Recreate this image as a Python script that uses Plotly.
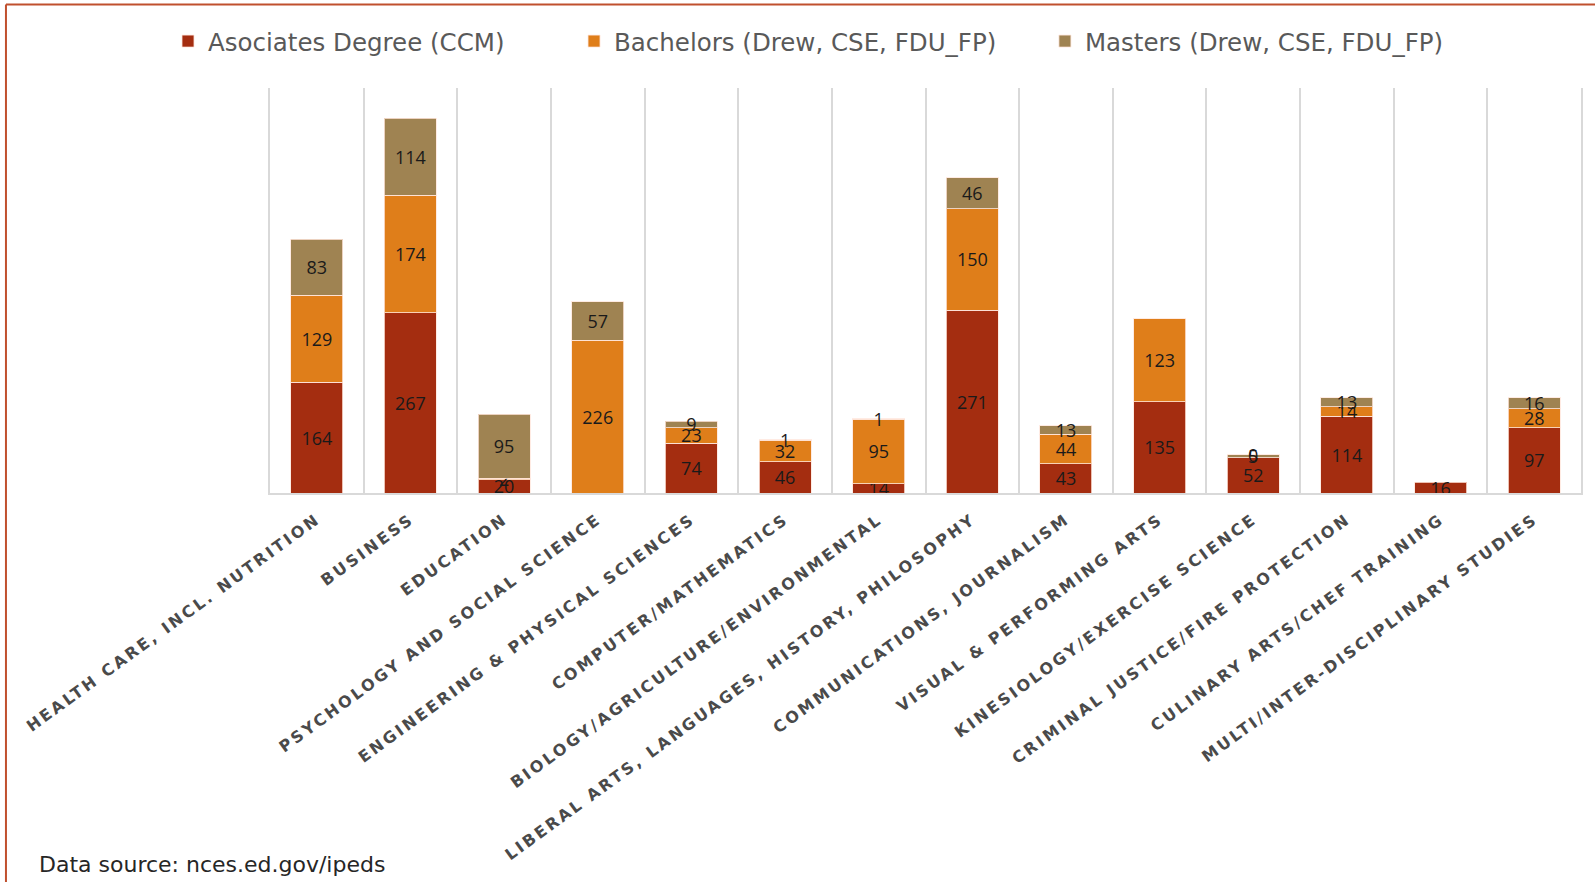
import plotly.graph_objects as go

# 분야별 학위 수여 현황
categories = [
    'HEALTH CARE, INCL. NUTRITION', 'BUSINESS', 'EDUCATION',
    'PSYCHOLOGY AND SOCIAL SCIENCE', 'ENGINEERING & PHYSICAL SCIENCES',
    'COMPUTER/MATHEMATICS', 'BIOLOGY/AGRICULTURE/ENVIRONMENTAL',
    'LIBERAL ARTS, LANGUAGES, HISTORY, PHILOSOPHY',
    'COMMUNICATIONS, JOURNALISM', 'VISUAL & PERFORMING ARTS',
    'KINESIOLOGY/EXERCISE SCIENCE', 'CRIMINAL JUSTICE/FIRE PROTECTION',
    'CULINARY ARTS/CHEF TRAINING', 'MULTI/INTER-DISCIPLINARY STUDIES',
]
associates = [164, 267, 20, None, 74, 46, 14, 271, 43, 135, 52, 114, 16, 97]
bachelors = [129, 174, 2, 226, 23, 32, 95, 150, 44, 123, 0, 14, None, 28]
masters = [83, 114, 95, 57, 9, 1, 1, 46, 13, None, 5, 13, None, 16]

series_names = ['Asociates Degree (CCM)', 'Bachelors (Drew, CSE, FDU_FP)', 'Masters (Drew, CSE, FDU_FP)']
colors = ['#A42D10', '#DF7E1A', '#9F8352']
legend_ids = ['legend', 'legend2', 'legend3']
legend_x = [-0.0778, 0.2319, 0.5911]

label_font = dict(family='Open Sans, Noto Sans, sans-serif', size=18, color='#1a1a1a')

fig = go.Figure()

base = [0] * len(categories)
zero_x, zero_y = [], []
for name, vals, color, lg in zip(series_names, [associates, bachelors, masters], colors, legend_ids):
    fig.add_trace(go.Bar(
        x=categories,
        y=vals,
        name=name,
        legend=lg,
        marker=dict(color=color, line=dict(color='rgba(255,230,220,0.8)', width=1)),
        text=[('' if v is None else str(v)) for v in vals],
        textposition='inside',
        insidetextanchor='middle',
        textangle=0,
        textfont=label_font,
        cliponaxis=False,
    ))
    # 0 값은 막대 높이가 없어 라벨이 안 그려지므로 따로 표시
    for i, v in enumerate(vals):
        if v == 0:
            zero_x.append(categories[i])
            zero_y.append(base[i])
        base[i] += (v or 0)

fig.add_trace(go.Scatter(
    x=zero_x, y=zero_y,
    mode='text',
    text=['0'] * len(zero_x),
    textposition='middle center',
    textfont=label_font,
    showlegend=False,
    hoverinfo='skip',
    cliponaxis=False,
))

# 테두리 (프레임)
fig.add_shape(
    type='line', xref='paper', yref='paper',
    x0=-0.2014, x1=-0.2014, y0=-1.0, y1=1.2062,
    line=dict(color='#C0502E', width=2),
)
fig.add_shape(
    type='line', xref='paper', yref='paper',
    x0=-0.2014, x1=1.02, y0=1.2062, y1=1.2062,
    line=dict(color='#C0502E', width=2),
)

fig.add_annotation(
    text='Data source: nces.ed.gov/ipeds',
    xref='paper', yref='paper', x=-0.178, y=-0.917,
    xanchor='left', yanchor='middle', showarrow=False,
    font=dict(family='DejaVu Sans, sans-serif', size=22, color='#262626'),
)

legend_style = dict(
    orientation='h',
    xanchor='left',
    y=1.1156, yanchor='middle',
    font=dict(family='DejaVu Sans, sans-serif', size=24.5, color='#595959'),
    bgcolor='rgba(0,0,0,0)',
)

fig.update_layout(
    barmode='stack',
    bargap=0.445,
    width=1595, height=882,
    margin=dict(l=270, r=14, t=88, b=389),
    plot_bgcolor='white',
    paper_bgcolor='white',
    uniformtext=dict(minsize=18, mode='show'),
    legend=dict(legend_style, x=legend_x[0]),
    legend2=dict(legend_style, x=legend_x[1]),
    legend3=dict(legend_style, x=legend_x[2]),
    showlegend=True,
)

fig.update_xaxes(
    tickson='boundaries',
    showgrid=True, gridcolor='#d9d9d9', gridwidth=1.5,
    showline=True, linecolor='#d9d9d9', linewidth=2,
    ticks='', ticklabelstandoff=9, tickangle=-36,
    tickfont=dict(family='DejaVu Sans, sans-serif', size=16, color='#4a4a4a', weight='bold'),
    range=[-0.5, 13.5],
)
fig.update_yaxes(
    range=[0, 600],
    showgrid=False, zeroline=False,
    showticklabels=False, ticks='',
    showline=True, linecolor='#d9d9d9', linewidth=1.5, mirror=True,
)

# 페이지 여백 제거 + 축 라벨 자간 (엑셀 원본처럼 넓게)
page_js = """
document.body.style.margin = '0';
document.querySelectorAll('.xtick text').forEach(function(t) {
    t.style.letterSpacing = '2.6px';
});
"""

fig.write_html("out.html", post_script=page_js, config={'displayModeBar': False})
